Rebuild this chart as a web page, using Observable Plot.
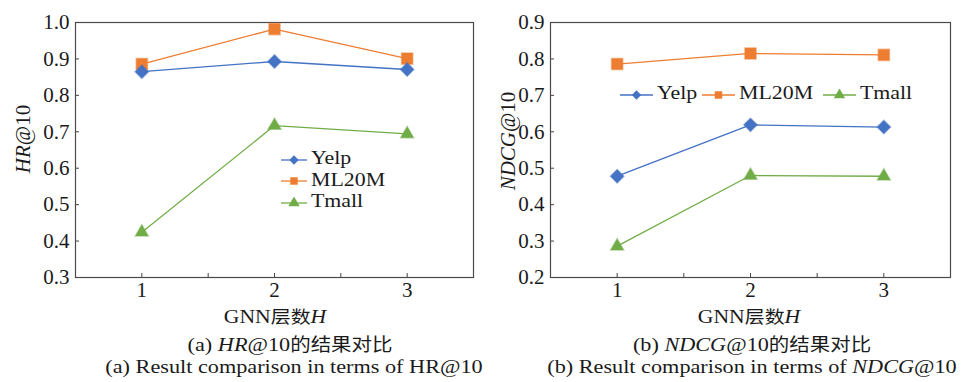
<!DOCTYPE html>
<html>
<head>
<meta charset="utf-8">
<script src="https://cdn.jsdelivr.net/npm/d3@7"></script>
<script src="https://cdn.jsdelivr.net/npm/@observablehq/plot@0.6"></script>
<style>
  html, body { margin: 0; padding: 0; background: #fff; }
  #wrap { position: relative; width: 963px; height: 382px; background: #fff; font-family: "Liberation Serif", serif; color: #1a1a1a; overflow: hidden; }
  #wrap svg text { font-family: "Liberation Serif", serif !important; }
  .abs { position: absolute; white-space: nowrap; }
  .cap { position: absolute; white-space: nowrap; text-align: center; font-family: "Liberation Serif", serif; font-size: 19.5px; line-height: 20px; transform: translateX(-50%) scaleX(1.14); }
  .cjk { font-family: "Noto Sans CJK SC", sans-serif; font-size: 0.92em; }
  .ylab { position: absolute; white-space: nowrap; font-family: "Liberation Serif", serif; font-size: 21px; line-height: 21px; transform: translate(-50%, -50%) rotate(-90deg); }
  .leg { position: absolute; font-family: "Liberation Serif", serif; font-size: 19px; line-height: 18px; height: 18px; white-space: nowrap; transform-origin: 0 50%; }
  .leg .t { display: inline-block; transform: scaleX(1.15); transform-origin: 0 50%; }
  .leg svg { vertical-align: middle; }
</style>
</head>
<body>
<div id="wrap">
  <div id="pa" class="abs" style="left:0;top:0"></div>
  <div id="pb" class="abs" style="left:480px;top:0"></div>
</div>
<script>
// ---- data ----
const layers = [1, 2, 3];
const series = ["Yelp", "ML20M", "Tmall"];
const colors = ["#4472C4", "#ED7D31", "#70AD47"];
const symbols = ["diamond2", "square", "triangle"];

const hrYelp  = [0.865, 0.893, 0.871];
const hrML20M = [0.886, 0.982, 0.901];
const hrTmall = [0.424, 0.717, 0.694];

const ndcgYelp  = [0.478, 0.619, 0.613];
const ndcgML20M = [0.786, 0.815, 0.811];
const ndcgTmall = [0.286, 0.480, 0.478];

const hrTicks   = [0.3, 0.4, 0.5, 0.6, 0.7, 0.8, 0.9, 1.0];
const ndcgTicks = [0.2, 0.3, 0.4, 0.5, 0.6, 0.7, 0.8, 0.9];
const xLabelTicks = [1, 2, 3];
const xMinorTicks = [1, 1.5, 2, 2.5, 3];

const markerR = {Yelp: 6, ML20M: 6.3, Tmall: 4.8};
const serif = "Liberation Serif, serif";

function table(vals) {
  const rows = [];
  series.forEach((s, i) => layers.forEach((h, j) => rows.push({series: s, H: h, v: vals[i][j]})));
  return rows;
}

function makePlot(rows, yTicks, opts) {
  return Plot.plot({
    width: opts.width,
    height: 305,
    marginLeft: opts.ml,
    marginRight: opts.mr,
    marginTop: 22,
    marginBottom: 28,
    style: {fontFamily: serif, fontSize: "21px", color: "#1a1a1a", background: "transparent"},
    x: {domain: [0.5, 3.5]},
    y: {domain: [yTicks[0], yTicks[yTicks.length - 1]]},
    r: {type: "identity"},
    color: {domain: series, range: colors},
    symbol: {domain: series, range: symbols},
    marks: [
      Plot.axisY({ticks: yTicks, tickSize: 0, tickPadding: 6, tickFormat: d3.format(".1f"), label: null, fontSize: 21, fontFamily: serif}),
      Plot.axisY({ticks: yTicks, tickSize: 4, dx: 4, tickFormat: () => "", label: null, stroke: "#444"}),
      Plot.axisX({ticks: xLabelTicks, tickSize: 0, tickPadding: 5, tickFormat: d3.format("d"), label: null, fontSize: 21, fontFamily: serif}),
      Plot.axisX({ticks: xMinorTicks, tickSize: 4, dy: -4, tickFormat: () => "", label: null, stroke: "#444"}),
      Plot.frame({stroke: "#4a4a4a", strokeWidth: 1.2}),
      Plot.line(rows, {x: "H", y: "v", z: "series", stroke: "series", strokeWidth: 1.3}),
      Plot.dot(rows, {x: "H", y: "v", symbol: "series", fill: "series", stroke: "series", strokeOpacity: 0.5, strokeWidth: 1.5, r: d => markerR[d.series]})
    ]
  });
}

const rowsA = table([hrYelp, hrML20M, hrTmall]);
const rowsB = table([ndcgYelp, ndcgML20M, ndcgTmall]);
document.getElementById("pa").append(makePlot(rowsA, hrTicks, {width: 481, ml: 75, mr: 8}));
document.getElementById("pb").append(makePlot(rowsB, ndcgTicks, {width: 483, ml: 70, mr: 13}));

const wrap = document.getElementById("wrap");
function add(html, cls, style) {
  const d = document.createElement("div");
  d.className = cls; d.setAttribute("style", style); d.innerHTML = html;
  wrap.append(d); return d;
}

// y labels
add('<i>HR</i>@10', "ylab", "left:23px;top:139px");
add('<i>NDCG</i>@10', "ylab", "left:508px;top:141px");

// captions
add('GNN<span class="cjk">层数</span><i>H</i>', "cap", "left:275px;top:306px;font-size:19px");
add('(a) <i>HR</i>@10<span class="cjk">的结果对比</span>', "cap", "left:290px;top:333px");
add('(a) Result comparison in terms of HR@10', "cap", "left:294px;top:357px");
add('GNN<span class="cjk">层数</span><i>H</i>', "cap", "left:749px;top:306px;font-size:19px");
add('(b) <i>NDCG</i>@10<span class="cjk">的结果对比</span>', "cap", "left:752px;top:333px");
add('(b) Result comparison in terms of <i>NDCG</i>@10', "cap", "left:752px;top:357px");

// legends
function swatch(i, w) {
  const r = 4.2;
  const sym = {diamond2: d3.symbolDiamond2, square: d3.symbolSquare, triangle: d3.symbolTriangle}[symbols[i]];
  const p = d3.symbol(sym, Math.PI * r * r)();
  return `<svg width="${w}" height="12" style="margin-right:4px"><line x1="0" x2="${w}" y1="6" y2="6" stroke="${colors[i]}" stroke-width="1.3"/><path transform="translate(${w/2},6)" d="${p}" fill="${colors[i]}"/></svg>`;
}
series.forEach((s, i) => {
  add(swatch(i, 26) + `<span class="t">${s}</span>`, "leg", `left:281px;top:${149 + i * 21.5}px`);
});
const legB = [620, 702, 823];
series.forEach((s, i) => {
  add(swatch(i, 33) + `<span class="t">${s}</span>`, "leg", `left:${legB[i]}px;top:84px`);
});
</script>
</body>
</html>
